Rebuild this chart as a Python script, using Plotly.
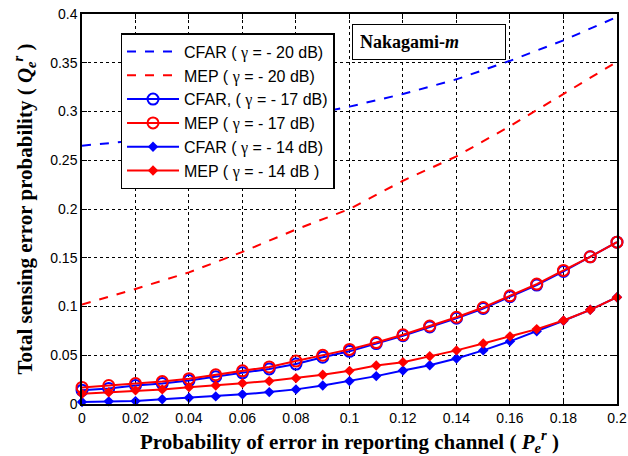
import plotly.graph_objects as go

# x values
x_dense = [round(0.01 * i, 2) for i in range(21)]
x_coarse = [round(0.02 * i, 2) for i in range(11)]

# -20 dB curves (dashed)
cfar_20 = [0.265, 0.270, 0.277, 0.285, 0.294, 0.305, 0.318, 0.333, 0.352, 0.373, 0.397]
mep_20 = [0.102, 0.118, 0.135, 0.156, 0.179, 0.200, 0.229, 0.254, 0.285, 0.318, 0.351]

# -17 dB curves (circles)
cfar_17 = [0.014, 0.016, 0.019, 0.021, 0.024, 0.028, 0.032, 0.036, 0.041, 0.048, 0.054,
           0.062, 0.070, 0.079, 0.088, 0.098, 0.110, 0.122, 0.136, 0.151, 0.166]
mep_17 = [0.017, 0.019, 0.021, 0.023, 0.026, 0.030, 0.034, 0.038, 0.044, 0.050, 0.056,
          0.063, 0.071, 0.080, 0.089, 0.099, 0.111, 0.123, 0.137, 0.151, 0.166]

# -14 dB curves (diamonds)
cfar_14 = [0.002, 0.0027, 0.003, 0.0048, 0.0064, 0.0078, 0.0099, 0.0122, 0.015, 0.019, 0.0235,
           0.0286, 0.0344, 0.0398, 0.0466, 0.055, 0.0643, 0.0745, 0.0854, 0.0966, 0.1095]
mep_14 = [0.0105, 0.012, 0.014, 0.015, 0.0173, 0.019, 0.0214, 0.0235, 0.0265, 0.030, 0.034,
          0.0395, 0.0429, 0.049, 0.055, 0.062, 0.0694, 0.0768, 0.0857, 0.0966, 0.1095]

G = '<span style="font-family:Liberation Serif">\u03b3</span>'
names = [f"CFAR ( {G} = - 20 dB)", f"MEP ( {G} = - 20 dB)", f"CFAR, ( {G} = - 17 dB)",
         f"MEP ( {G} = - 17 dB)", f"CFAR ( {G} = - 14 dB)", f"MEP ( {G} = - 14 dB )"]

x_ticks = [0, 0.02, 0.04, 0.06, 0.08, 0.1, 0.12, 0.14, 0.16, 0.18, 0.2]
x_ticktext = ["0", "0.02", "0.04", "0.06", "0.08", "0.1", "0.12", "0.14", "0.16", "0.18", "0.2"]
y_ticks = [0, 0.05, 0.1, 0.15, 0.2, 0.25, 0.3, 0.35, 0.4]
y_ticktext = ["0", "0.05", "0.1", "0.15", "0.2", "0.25", "0.3", "0.35", "0.4"]

BLUE = "#0000ff"
RED = "#ff0000"

fig = go.Figure()
fig.add_trace(go.Scatter(x=x_coarse, y=cfar_20, mode="lines", name=names[0], legendgroup="a",
                         line=dict(color=BLUE, width=2, dash="dash")))
fig.add_trace(go.Scatter(x=x_coarse, y=mep_20, mode="lines", name=names[1], legendgroup="b",
                         line=dict(color=RED, width=2, dash="dash")))
fig.add_trace(go.Scatter(x=x_dense, y=cfar_17, mode="lines+markers", name=names[2], legendgroup="c",
                         line=dict(color=BLUE, width=2), cliponaxis=False,
                         marker=dict(symbol="circle-open", size=11, color=BLUE, line=dict(width=2, color=BLUE))))
fig.add_trace(go.Scatter(x=x_dense, y=mep_17, mode="lines+markers", name=names[3], legendgroup="d",
                         line=dict(color=RED, width=2), cliponaxis=False,
                         marker=dict(symbol="circle-open", size=11, color=RED, line=dict(width=2, color=RED))))
fig.add_trace(go.Scatter(x=x_dense, y=cfar_14, mode="lines+markers", name=names[4], legendgroup="e",
                         line=dict(color=BLUE, width=2), cliponaxis=False,
                         marker=dict(symbol="diamond", size=8, color=BLUE)))
fig.add_trace(go.Scatter(x=x_dense, y=mep_14, mode="lines+markers", name=names[5], legendgroup="f",
                         line=dict(color=RED, width=2), cliponaxis=False,
                         marker=dict(symbol="diamond", size=8, color=RED)))

axis_common = dict(showline=True, linecolor="black", linewidth=1.5, mirror="ticks",
                   ticks="inside", ticklen=5, tickcolor="black",
                   showgrid=True, gridcolor="black", gridwidth=1, griddash="dot",
                   zeroline=False, automargin=False, ticklabeloverflow="allow",
                   tickfont=dict(family="Liberation Sans, Arial", size=14, color="black"))

fig.update_xaxes(range=[0, 0.20001], tickvals=x_ticks, ticktext=x_ticktext,
                 title=dict(text="<b>Probability of error in reporting channel ( <i>P</i><sub><i>e</i></sub><sup><i>r</i></sup> )</b>",
                            font=dict(family="Liberation Serif, Times New Roman", size=21, color="black"),
                            standoff=10),
                 **axis_common)
fig.update_yaxes(range=[0, 0.40001], tickvals=y_ticks, ticktext=y_ticktext,
                 title=dict(text="<b>Total sensing error probability ( <i>Q</i><sub><i>e</i></sub><sup><i>r</i></sup> )</b>",
                            font=dict(family="Liberation Serif, Times New Roman", size=21, color="black"),
                            standoff=12),
                 **axis_common)

fig.update_layout(
    width=628, height=456,
    margin=dict(l=82, r=11, t=14, b=52),
    paper_bgcolor="white", plot_bgcolor="white",
    showlegend=True,
    legend=dict(x=0.072, y=0.951, xanchor="left", yanchor="top",
                bgcolor="white", bordercolor="black", borderwidth=1.5,
                font=dict(family="Liberation Sans, Arial", size=16, color="black"),
                tracegroupgap=0, itemwidth=52),
    annotations=[dict(x=0.505, y=0.975, xref="paper", yref="paper", xanchor="left", yanchor="top",
                      text="<b>Nakagami-<i>m</i></b>", showarrow=False,
                      font=dict(family="Liberation Serif, Times New Roman", size=18, color="black"),
                      bordercolor="black", borderwidth=1, bgcolor="white", borderpad=7,
                      width=138, align="left")],
)

fig.write_html("out.html", config={"displayModeBar": False},
               post_script="document.body.style.margin='0';document.body.style.overflow='hidden';")
